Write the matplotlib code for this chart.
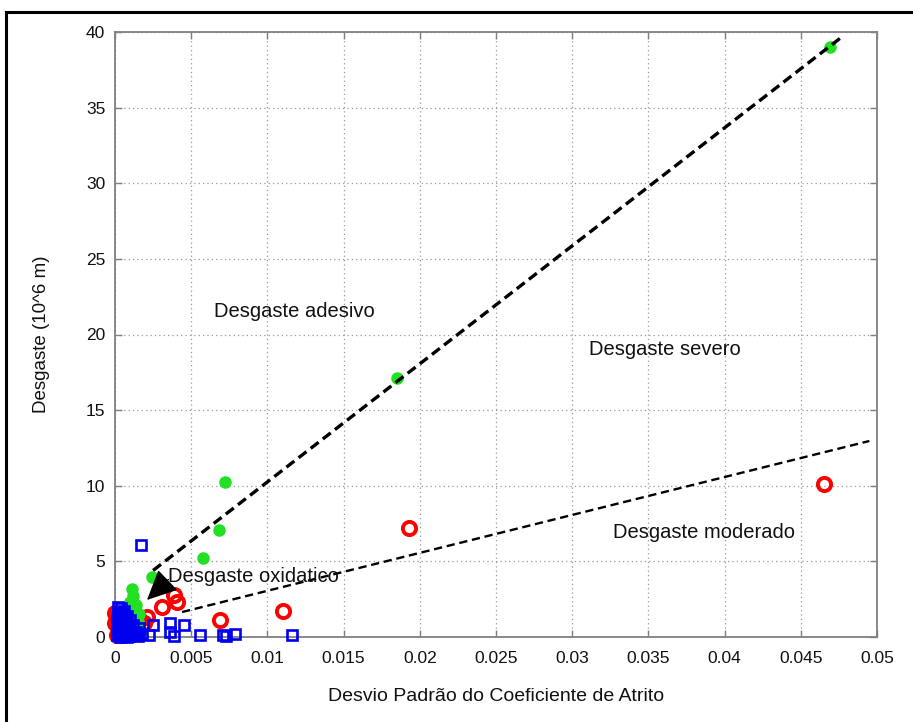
"""Desgaste x desvio padrão do coeficiente de atrito (scatter com regiões)."""

import matplotlib
matplotlib.use("Agg")
import matplotlib.pyplot as plt
from matplotlib.patches import Rectangle
from matplotlib.ticker import FuncFormatter, MultipleLocator

plt.rcParams["font.family"] = ["Liberation Sans", "DejaVu Sans"]

# ---------------------------------------------------------------------------
# Data
# ---------------------------------------------------------------------------

# red open circles
red_x = [0.0465, 0.0193, 0.0110, 0.0069, 0.0039, 0.0041, 0.0031, 0.0021,
         0.0000, 0.0000, 0.0001, 0.0003, 0.0012, 0.0016, 0.0004, 0.0019]
red_y = [10.1, 7.2, 1.7, 1.1, 2.8, 2.3, 2.0, 1.35,
         1.6, 0.9, 0.1, 0.4, 1.6, 1.2, 0.1, 0.9]

# green filled circles
green_x = [0.0469, 0.0185, 0.0072, 0.0068, 0.0058, 0.0024,
           0.0011, 0.0012, 0.0010, 0.0014, 0.0008, 0.0013, 0.0016,
           0.0011, 0.0015, 0.0013, 0.0017, 0.0009]
green_y = [39.0, 17.1, 10.25, 7.1, 5.2, 4.0,
           3.2, 2.7, 2.3, 2.1, 1.9, 1.7, 1.5,
           1.3, 1.0, 0.7, 0.4, 0.1]

# blue open squares
blue_x = [0.0017, 0.0022, 0.0025, 0.0036, 0.0036, 0.0039, 0.0045, 0.0056,
          0.0071, 0.0073, 0.0079, 0.0116,
          0.0002, 0.0004, 0.0003, 0.0006, 0.0001, 0.0005, 0.0008, 0.0003,
          0.0007, 0.0010, 0.0002, 0.0005, 0.0009, 0.0012, 0.0004, 0.0007,
          0.0011, 0.0014, 0.0001, 0.0006, 0.0009, 0.0013, 0.0016, 0.0003,
          0.0008, 0.0002, 0.0005, 0.0007, 0.0004, 0.0001, 0.0006, 0.0010,
          0.0003, 0.0008, 0.0012, 0.0018, 0.0015]
blue_y = [6.1, 0.15, 0.8, 0.95, 0.3, 0.05, 0.8, 0.15,
          0.1, 0.05, 0.2, 0.15,
          2.0, 1.9, 1.6, 1.7, 1.3, 1.2, 1.4, 0.9,
          1.0, 1.1, 0.6, 0.7, 0.5, 0.8, 0.3, 0.4,
          0.2, 0.3, 0.1, 0.1, 0.05, 0.1, 0.6, 0.0,
          0.0, 1.5, 1.5, 1.25, 1.1, 0.75, 0.55, 0.35,
          0.2, 0.75, 0.25, 0.2, 0.05]

# boundary lines between wear regimes
severe_x = [0.0025, 0.0476]
severe_y = [4.4, 39.6]
moderate_x = [0.0044, 0.0495]
moderate_y = [1.65, 12.96]

# region labels: (text, x, y)
labels = [
    ("Desgaste adesivo", 0.0065, 21.55),
    ("Desgaste severo", 0.0311, 18.98),
    ("Desgaste moderado", 0.0327, 6.94),
]
oxid_text = "Desgaste oxidatico"
oxid_text_xy = (0.0035, 3.97)
oxid_tip = (0.0021, 2.45)
oxid_tail = (0.0035, 3.8)

XTICKS_STEP = 0.005
YTICKS_STEP = 5

# ---------------------------------------------------------------------------
# Plot
# ---------------------------------------------------------------------------

fig = plt.figure(figsize=(9.13, 7.22), dpi=100)
ax = fig.add_axes([115 / 913, 1 - 637 / 722, (877 - 115) / 913, (637 - 32) / 722])

ax.plot(red_x, red_y, "o", ls="none", mfc="none", mec="#ff0000", ms=9.5, mew=2.8,
        clip_on=False, zorder=3)
ax.plot(green_x, green_y, "o", ls="none", mfc="#22e022", mec="#22e022", ms=8,
        clip_on=False, zorder=4)
ax.plot(blue_x, blue_y, "s", ls="none", mfc="none", mec="#0000ee", ms=7, mew=1.9,
        clip_on=False, zorder=5)

ax.plot(severe_x, severe_y, color="black", lw=2.4, dashes=(3, 1.6), zorder=6)
ax.plot(moderate_x, moderate_y, color="black", lw=1.7, dashes=(3.5, 2), zorder=6)

for txt, x, y in labels:
    ax.text(x, y, txt, fontsize=14.5, ha="left", va="center", color="#111111")

ax.text(*oxid_text_xy, oxid_text, fontsize=14.5, ha="left", va="center",
        color="#111111", zorder=7)
ax.annotate("", xy=oxid_tip, xytext=oxid_tail,
            arrowprops=dict(arrowstyle="-|>,head_length=0.95,head_width=0.45",
                            mutation_scale=20, color="black", lw=1,
                            shrinkA=0, shrinkB=0), zorder=7)

ax.set_xlim(0, 0.05)
ax.set_ylim(0, 40)
ax.xaxis.set_major_locator(MultipleLocator(XTICKS_STEP))
ax.yaxis.set_major_locator(MultipleLocator(YTICKS_STEP))
ax.xaxis.set_major_formatter(FuncFormatter(lambda v, _: f"{round(v, 4):g}"))
ax.yaxis.set_major_formatter(FuncFormatter(lambda v, _: f"{v:g}"))

ax.grid(True, ls=(0, (1, 2.5)), color="#999999", lw=0.9)
ax.tick_params(direction="in", top=True, right=True, length=5, width=1,
               color="#808080", labelsize=12.5, labelcolor="#111111")
ax.tick_params(axis="x", pad=10)
ax.tick_params(axis="y", pad=7)
for sp in ax.spines.values():
    sp.set_color("#808080")
    sp.set_linewidth(1.3)

ax.set_xlabel("Desvio Padrão do Coeficiente de Atrito", fontsize=14, labelpad=16,
              color="#111111")
ax.set_ylabel("Desgaste (10^6 m)", fontsize=13.5, labelpad=26, color="#111111")

# black frame round the picture (cut off at right and bottom)
fig.patches.append(Rectangle((6 / 913, -0.2), 1.2, 1.2 - 12 / 722,
                             transform=fig.transFigure, fill=False,
                             edgecolor="black", lw=2.2, clip_on=False))

fig.savefig("out.png", dpi=100, facecolor="white")
